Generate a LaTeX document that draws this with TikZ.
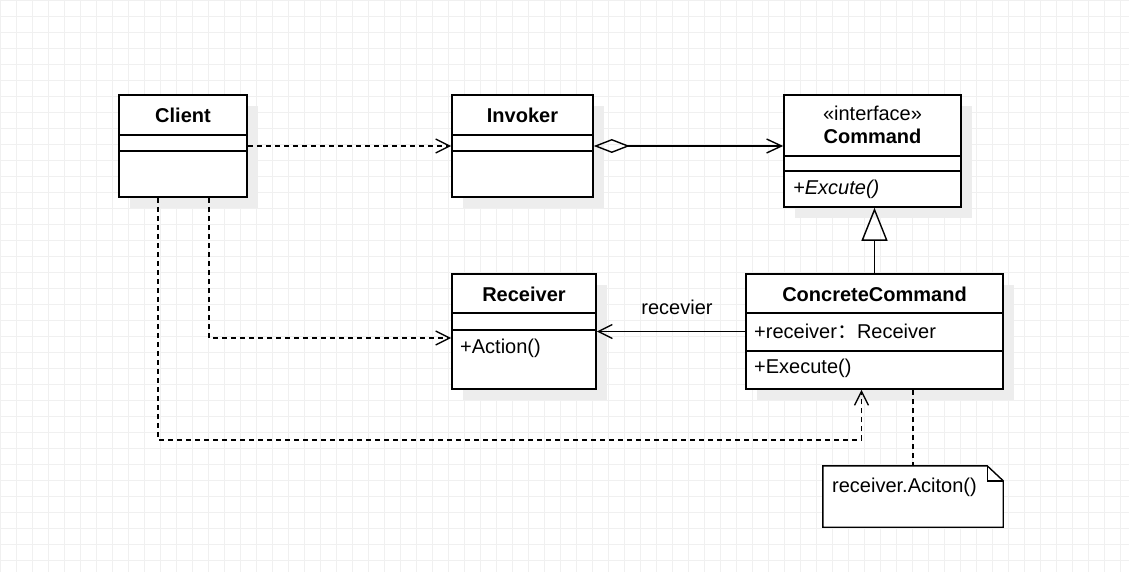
\documentclass[tikz,border=0pt]{standalone}
\usepackage{fontspec}
\setmainfont{Liberation Sans}
\newfontfamily\cjk{Noto Sans CJK SC}
\usetikzlibrary{arrows.meta,calc,shadows}

\begin{document}
\begin{tikzpicture}[
  x=1pt, y=-1pt,
  every node/.style={font=\fontsize{20}{24}\selectfont},
  cls/.style={draw, line width=1.6pt, fill=white, inner sep=0pt,
    drop shadow={shadow xshift=11pt, shadow yshift=-11pt, opacity=1, fill=black!7}},
  sep/.style={line width=1.6pt},
  title/.style={font=\fontsize{20}{24}\selectfont\bfseries},
  member/.style={anchor=west, inner sep=0pt},
  dep/.style={dash pattern=on 5pt off 4pt, line width=1.4pt, -{Straight Barb[length=14pt,width=14pt]}},
  assoc/.style={line width=1.4pt, -{Straight Barb[length=14pt,width=14pt]}},
  agg/.style={line width=1.4pt, {Diamond[open,length=36pt,width=14pt]}-{Straight Barb[length=15pt,width=14pt]}},
  inh/.style={line width=1.4pt, -{Triangle[open,length=33pt,width=26pt]}},
]
\useasboundingbox (0,0) rectangle (1129,572);
\fill[white] (0,0) rectangle (1129,572);
\draw[black!6, line width=0.7pt, step=16pt] (0,0) grid (1129,572);

% classes
\node[cls, minimum width=128pt, minimum height=102pt] (client) at (183,146) {};
\node[cls, minimum width=141pt, minimum height=102pt] (invoker) at (522.5,146) {};
\node[cls, minimum width=177pt, minimum height=112pt] (command) at (872.5,151) {};
\node[cls, minimum width=144pt, minimum height=115pt] (receiver) at (524,331.5) {};
\node[cls, minimum width=257pt, minimum height=115pt] (cc) at (874.5,331.5) {};

\draw[sep] (119,135) -- (247,135) (119,151) -- (247,151);
\draw[sep] (452,135) -- (593,135) (452,151) -- (593,151);
\draw[sep] (784,156) -- (961,156) (784,171) -- (961,171);
\draw[sep] (452,313) -- (596,313) (452,330) -- (596,330);
\draw[sep] (746,313) -- (1003,313) (746,351) -- (1003,351);

\node[title] (client-t) at (183,115) {Client};
\node[title] (invoker-t) at (522.5,115) {Invoker};
\node (command-s) at (872.5,113) {«interface»};
\node[title] (command-t) at (872.5,136) {Command};
\node[member, font=\fontsize{20}{24}\selectfont\itshape] (command-m) at (793,189) {+Excute()};
\node[title] (receiver-t) at (524,294) {Receiver};
\node[member] (receiver-m) at (460,348) {+Action()};
\node[title] (cc-t) at (874.5,294) {ConcreteCommand};
\node[member] (cc-a) at (754,331) {+receiver{\cjk ：}Receiver};
\node[member] (cc-m) at (754,368) {+Execute()};

% note
\node[minimum width=180pt, minimum height=61pt, inner sep=0pt] (note) at (913,496.5) {};
\draw[line width=1.4pt, fill=white] (note.north west) -- ($(note.north east)+(-16,0)$)
  -- ($(note.north east)+(0,15)$) -- (note.south east) -- (note.south west) -- cycle;
\draw[line width=1.4pt] ($(note.north east)+(-16,0)$) |- ($(note.north east)+(0,15)$);
\node[member] (note-t) at (832,487) {receiver.Aciton()};

% relations
\draw[dep] (client) -- (invoker);
\draw[agg] (invoker.east) -- (invoker.east -| command.west);
\draw[inh] (cc.north) -- (cc.north |- command.south);
\draw[assoc] (cc) -- (receiver);
\node (label) at (677,307) {recevier};
\draw[dep] ($(client.south)+(26,0)$) |- ($(receiver.west)+(0,6.5)$);
\draw[dep] ($(client.south)+(-25,0)$) -- ++(0,242) -| ($(cc.south)+(-13,0)$);
\draw[dash pattern=on 5pt off 4pt, line width=1.4pt] (cc.south -| note.north) -- (note.north);
\end{tikzpicture}
\end{document}
